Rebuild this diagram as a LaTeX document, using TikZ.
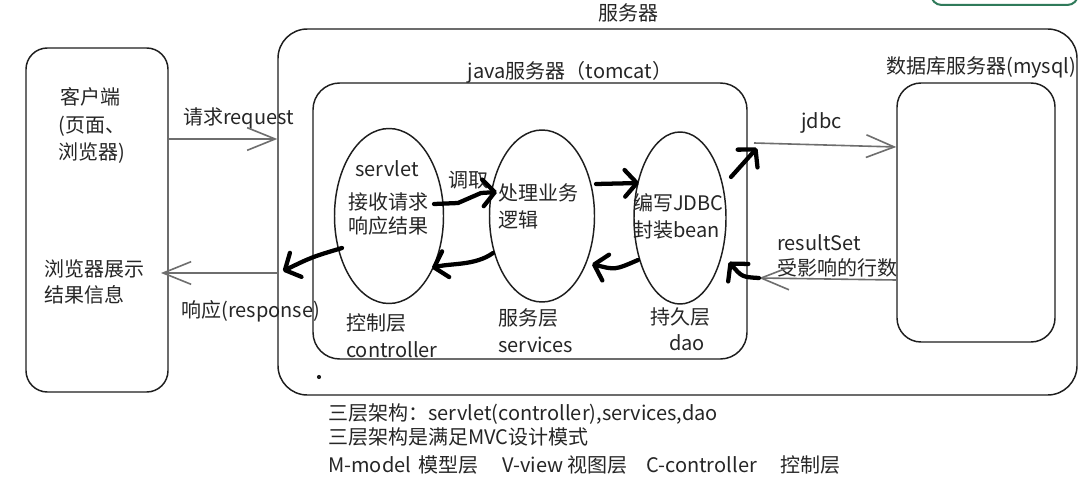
\documentclass[tikz,border=0pt]{standalone}
\usepackage{fontspec}
\setmainfont{Noto Sans CJK SC}
\usetikzlibrary{arrows.meta,shapes.geometric}
\definecolor{ink}{HTML}{1E1E1E}
\definecolor{txt}{HTML}{262626}
\definecolor{wire}{HTML}{6E6E6E}
\definecolor{tabgreen}{HTML}{2F7A5A}

\begin{document}
\begin{tikzpicture}[x=0.75pt,y=-0.75pt,
  frame/.style={draw=ink, line width=1.1pt, rounded corners=#1, inner sep=0pt},
  frame/.default=18pt,
  layer/.style={draw=ink, line width=1.1pt, ellipse, inner sep=0pt},
  lbl/.style={text=txt, font=\fontsize{15}{18}\selectfont, inner sep=0pt, anchor=west},
  ctr/.style={lbl, anchor=center},
  msg/.style={draw=wire, line width=1.2pt, -{Straight Barb[length=21pt,width=17pt]}},
  flow/.style={draw=black, line width=3.2pt, line cap=round, line join=round,
    -{Straight Barb[length=9pt,width=20pt,line cap=round,line join=round]}},
]
\useasboundingbox (0,0) rectangle (1088,485);
\fill[white] (0,0) rectangle (1088,485);
\clip (0,0) rectangle (1088,485);

% containers
\node[frame=16pt, minimum width=106.5pt, minimum height=258pt] (client) at (97,220) {};
\node[frame=22pt, minimum width=599.25pt, minimum height=274.5pt] (server) at (677.5,212) {};
\node[frame=20pt, minimum width=325.5pt, minimum height=207pt] (tomcat) at (530,221) {};
\node[frame=18pt, minimum width=118.5pt, minimum height=194.25pt] (mysql) at (976,212.5) {};
\node[draw=tabgreen, line width=1.5pt, rounded corners=8pt, inner sep=0pt,
      minimum width=110.25pt, minimum height=22.5pt] (tab) at (1004.5,-10) {};

% the three layers
\node[layer, minimum width=81.75pt, minimum height=131.25pt] (servlet) at (389,216) {};
\node[layer, minimum width=78.75pt, minimum height=129pt] (service) at (542,216) {};
\node[layer, minimum width=69pt, minimum height=129pt] (dao) at (680,218) {};

% titles
\node[ctr] (tServer) at (628,13) {服务器};
\node[ctr] (tTomcat) at (570,72) {java服务器（tomcat）};
\node[lbl] (tMysql) at (886,67) {数据库服务器(mysql)};

% client
\node[lbl] (c1) at (60,97) {客户端};
\node[lbl] (c2) at (58,126) {(页面、};
\node[lbl] (c3) at (58,153) {浏览器)};
\node[lbl] (s1) at (44,269) {浏览器展示};
\node[lbl] (s2) at (44,295) {结果信息};

% layer texts
\node[ctr] (v1) at (387,169) {servlet};
\node[ctr] (v2) at (388,202) {接收请求};
\node[ctr] (v3) at (388,226) {响应结果};
\node[lbl] (call) at (448,180) {调取};
\node[lbl] (p1) at (498,193) {处理业务};
\node[lbl] (p2) at (498,220) {逻辑};
\node[lbl] (d1) at (633,203) {编写JDBC};
\node[lbl] (d2) at (633,230) {封装bean};
\node[lbl] (l1) at (346,323) {控制层};
\node[lbl] (l2) at (346,350) {controller};
\node[lbl] (l3) at (498,318) {服务层};
\node[lbl] (l4) at (498,345) {services};
\node[lbl] (l5) at (650,317) {持久层};
\node[lbl] (l6) at (669,343) {dao};

% message labels
\node[lbl] (tReq) at (183,118) {请求request};
\node[lbl] (tResp) at (181,311) {响应(response)};
\node[lbl] (tJdbc) at (801,123) {jdbc};
\node[lbl] (tRs1) at (777,243) {resultSet};
\node[lbl] (tRs2) at (777,268) {受影响的行数};

% notes
\node[lbl] (n1) at (328,414) {三层架构：servlet(controller),services,dao};
\node[lbl] (n2) at (328,437) {三层架构是满足MVC设计模式};
\node[lbl] (m1) at (328,465) {M-model};
\node[lbl] (m2) at (418,465) {模型层};
\node[lbl] (m3) at (502,465) {V-view};
\node[lbl] (m4) at (567,465) {视图层};
\node[lbl] (m5) at (646,465) {C-controller};
\node[lbl] (m6) at (780,465) {控制层};
\node[circle, fill=ink, inner sep=1.1pt] (dot) at (319,377) {};

% connector ends
\coordinate (reqA) at (client.east |- 0,139);
\coordinate (reqB) at (server.west |- 0,139);
\coordinate (respA) at (server.west |- 0,273);
\coordinate (respB) at (161,273);
\coordinate (jdA) at (754,143);
\coordinate (jdB) at (mysql.west |- 0,147);
\coordinate (rsA) at (mysql.west |- 0,280);
\coordinate (rsB) at (759,278);

\coordinate (f1a) at (434,204);
\coordinate (f1b) at (458,203);
\coordinate (f1c) at (481,193);
\coordinate (f1d) at (497,192);
\coordinate (f2a) at (596,184);
\coordinate (f2b) at (639,183);
\coordinate (f3a) at (731,177);
\coordinate (f3b) at (757,148);
\coordinate (f4a) at (rsB);
\coordinate (f4b) at (729,262);
\coordinate (f5a) at (638,260);
\coordinate (f5b) at (592,264);
\coordinate (f6a) at (493,253);
\coordinate (f6b) at (432,268);
\coordinate (f7a) at (342,248);
\coordinate (f7b) at (283,271);

% request / response and database messages
\draw[msg] (reqA) -- (reqB);
\draw[msg] (respA) -- (respB);
\draw[msg] (jdA) -- (jdB);
\draw[msg] (rsA) -- (rsB);

% call flow through the layers
\draw[flow] (f1a) -- (f1b) -- (f1c) -- (f1d);
\draw[flow] (f2a) -- (f2b);
\draw[flow] (f3a) -- (f3b);
\draw[flow] (f4a) .. controls (742,277) .. (f4b);
\draw[flow] (f5a) .. controls (615,270) .. (f5b);
\draw[flow] (f6a) .. controls (475,266) and (450,263) .. (f6b);
\draw[flow] (f7a) .. controls (312,257) .. (f7b);
\end{tikzpicture}
\end{document}
